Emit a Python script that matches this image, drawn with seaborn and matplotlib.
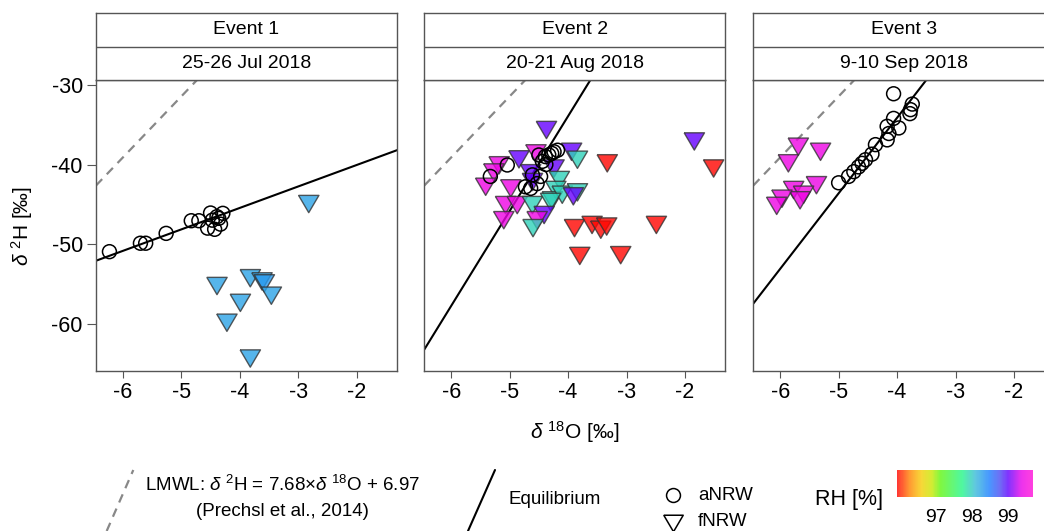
import numpy as np
import pandas as pd
import matplotlib
matplotlib.use("Agg")
import matplotlib.pyplot as plt
import seaborn as sns
from matplotlib.colors import LinearSegmentedColormap, Normalize
from matplotlib.cm import ScalarMappable
from matplotlib.lines import Line2D

# ---------------- data ----------------
events = ["Event 1", "Event 2", "Event 3"]
dates = ["25-26 Jul 2018", "20-21 Aug 2018", "9-10 Sep 2018"]

# aNRW (circles)
a1_d18O = [-6.23, -5.70, -5.61, -5.26, -4.83, -4.70, -4.50, -4.47, -4.55, -4.43, -4.36, -4.29, -4.33, -4.39]
a1_d2H = [-50.96, -49.9, -49.9, -48.66, -47.07, -47.07, -46.1, -47.0, -48.0, -48.15, -46.77, -46.14, -47.5, -46.56]

a2_d18O = [-5.04, -5.33, -4.50, -4.39, -4.33, -4.28, -4.18, -4.24, -4.44, -4.38, -4.61, -4.47, -4.53, -4.64, -4.73]
a2_d2H = [-40.06, -41.5, -38.8, -39.0, -38.8, -38.6, -38.2, -38.4, -39.6, -40.0, -41.3, -41.5, -42.4, -43.0, -42.8]

a3_d18O = [-4.06, -3.74, -3.77, -3.78, -4.06, -3.97, -4.17, -4.14, -4.17, -4.37, -4.43, -4.54, -4.60, -4.66, -4.74, -4.83, -5.00]
a3_d2H = [-31.1, -32.4, -33.1, -33.6, -34.2, -35.4, -35.2, -36.1, -36.9, -37.5, -38.7, -39.4, -39.85, -40.3, -40.9, -41.5, -42.3]

# fNRW (triangles) with relative humidity
f1_d18O = [-2.82, -4.39, -3.82, -3.62, -3.58, -3.46, -3.99, -4.22, -3.82]
f1_d2H = [-44.97, -55.28, -54.3, -54.7, -54.95, -56.5, -57.4, -59.9, -64.4]
f1_RH = [98.25, 98.25, 98.25, 98.25, 98.3, 98.25, 98.25, 98.25, 98.25]

f2_d18O = [-4.37, -4.55, -4.84, -3.94, -3.84, -3.33, -1.84, -1.51, -5.18, -5.27, -5.41, -4.98,
           -4.64, -4.61, -4.24, -4.15, -4.21, -4.27, -4.10, -3.84, -3.91, -5.07, -4.87, -4.61,
           -4.30, -5.10, -4.41, -4.53, -4.60, -3.89, -3.59, -3.44, -3.34, -2.49, -3.80, -3.10]
f2_d2H = [-35.66, -38.6, -39.35, -38.4, -39.4, -39.85, -37.1, -40.5, -40.1, -41.0, -42.8, -43.0,
          -41.1, -42.2, -40.5, -41.95, -43.2, -44.5, -43.8, -43.5, -44.0, -45.1, -45.1, -45.1,
          -44.7, -47.0, -46.35, -47.0, -48.0, -48.0, -47.6, -48.2, -47.8, -47.6, -51.5, -51.4]
f2_RH = [99.0, 99.45, 99.0, 99.0, 97.95, 95.95, 99.0, 95.95, 99.45, 99.45, 99.45, 99.45,
         99.0, 99.0, 99.0, 97.95, 97.95, 97.95, 97.95, 97.95, 99.0, 99.45, 99.45, 97.95,
         97.95, 99.45, 99.0, 99.45, 97.95, 95.95, 95.95, 95.95, 95.95, 95.95, 95.95, 95.95]

f3_d18O = [-5.69, -5.31, -5.86, -5.38, -5.77, -5.60, -5.66, -5.97, -6.06]
f3_d2H = [-37.76, -38.4, -39.85, -42.6, -43.2, -43.8, -44.5, -44.3, -45.2]
f3_RH = [99.45, 99.45, 99.45, 99.45, 99.45, 99.5, 99.45, 99.45, 99.45]

# lines
lmwl_slope, lmwl_intercept = 7.68, 6.97
eq_slopes = [2.70, 11.93, 9.50]
eq_intercepts = [-34.66, 13.8, 3.88]

xlim = (-6.46, -1.31)
ylim = (-65.97, -29.37)
xticks = [-6, -5, -4, -3, -2]
yticks = [-60, -50, -40, -30]
rh_range = (95.93, 99.67)
rh_ticks = [97, 98, 99]

# ---------------- style ----------------
sns.set_theme(style="white")
plt.rcParams['font.family'] = ['Liberation Sans', 'DejaVu Sans']
plt.rcParams['mathtext.fontset'] = 'custom'
plt.rcParams['mathtext.rm'] = 'Liberation Sans'
plt.rcParams['mathtext.it'] = 'Liberation Sans:italic'
plt.rcParams['mathtext.bf'] = 'Liberation Sans:bold'
plt.rcParams['text.color'] = 'black'
plt.rcParams['xtick.labelcolor'] = 'black'
plt.rcParams['ytick.labelcolor'] = 'black'

cm_pos = [0.00, 0.10, 0.18, 0.26, 0.32, 0.48, 0.58, 0.68, 0.76, 0.82, 0.92, 1.00]
cm_cols = ["#FF0000", "#FF8800", "#F6CE06", "#C6E800", "#60F610", "#24F688",
           "#38BAD8", "#1A7FFF", "#4A4AF2", "#6000FF", "#E800E8", "#FF10D8"]
cmap = LinearSegmentedColormap.from_list("rh", list(zip(cm_pos, cm_cols)))
norm = Normalize(*rh_range)

W, H = 1044, 531
fig = plt.figure(figsize=(W / 100, H / 100), dpi=100)

def fx(x):
    return x / W

def fy(y):
    return 1 - y / H

edge = "#555555"
tri = [(-1, 0.85), (1, 0.85), (0, -0.85), (-1, 0.85)]

a_x = [a1_d18O, a2_d18O, a3_d18O]
a_y = [a1_d2H, a2_d2H, a3_d2H]
f_x = [f1_d18O, f2_d18O, f3_d18O]
f_y = [f1_d2H, f2_d2H, f3_d2H]
f_rh = [f1_RH, f2_RH, f3_RH]

lefts = [96, 424.3, 753.3]
pw = 301
top, bot = 80, 371
tfs = 15.5

for i in range(3):
    ax = fig.add_axes([fx(lefts[i]), fy(bot), fx(pw), (bot - top) / H])
    ax.set_xlim(*xlim)
    ax.set_ylim(*ylim)
    ax.axline((0, lmwl_intercept), slope=lmwl_slope, color="#888888", lw=1.6, ls=(0, (4, 3)), zorder=1)
    ax.axline((0, eq_intercepts[i]), slope=eq_slopes[i], color="black", lw=1.5, zorder=1)
    dff = pd.DataFrame({"x": f_x[i], "y": f_y[i], "RH": f_rh[i]})
    sns.scatterplot(data=dff, x="x", y="y", hue="RH", palette=cmap, hue_norm=norm,
                    marker=tri, s=215, alpha=0.8, edgecolor="#333333", linewidth=1.0,
                    legend=False, ax=ax, zorder=2)
    dfa = pd.DataFrame({"x": a_x[i], "y": a_y[i]})
    sns.scatterplot(data=dfa, x="x", y="y", marker="o", s=100, facecolor="none",
                    edgecolor="black", linewidth=1.1, legend=False, ax=ax, zorder=3)
    ax.set_xlabel("")
    ax.set_ylabel("")
    ax.set_xticks(xticks)
    ax.set_xticklabels([str(t) for t in xticks], fontsize=tfs)
    if i == 0:
        ax.set_yticks(yticks)
        ax.set_yticklabels([str(t) for t in yticks], fontsize=tfs)
        ax.tick_params(axis="y", left=True, length=6.5, width=0.8, color=edge, pad=3)
    else:
        ax.set_yticks(yticks)
        ax.set_yticklabels([])
        ax.tick_params(axis="y", left=False)
    ax.tick_params(axis="x", bottom=True, length=5, width=0.8, color=edge, pad=3)
    for s in ax.spines.values():
        s.set_color(edge)
        s.set_linewidth(1.0)
    # strip
    st = fig.add_axes([fx(lefts[i]), fy(top), fx(pw), (top - 13) / H])
    st.set_xlim(0, 1)
    st.set_ylim(0, 1)
    st.set_xticks([])
    st.set_yticks([])
    st.axhline(0.5, color=edge, lw=1.0)
    for s in st.spines.values():
        s.set_color(edge)
        s.set_linewidth(1.0)
    st.text(0.5, 0.75, events[i], ha="center", va="center", fontsize=14)
    st.text(0.5, 0.25, dates[i], ha="center", va="center", fontsize=14)

# axis labels
fig.text(fx(22), fy(225.5), r"$\delta\ ^{2}$H [‰]", rotation=90, ha="center", va="center", fontsize=15)
fig.text(fx(575), fy(432), r"$\delta\ ^{18}$O [‰]", ha="center", va="center", fontsize=15)

# bottom legend
lfs = 13.5
fig.add_artist(Line2D([fx(106.7), fx(133.3)], [fy(531), fy(470)], color="#888888", lw=1.6,
                      ls=(0, (4, 3)), transform=fig.transFigure))
fig.text(fx(145), fy(485), r"LMWL: $\delta\ ^{2}$H = 7.68×$\delta\ ^{18}$O + 6.97",
         ha="left", va="center", fontsize=lfs)
fig.text(fx(282), fy(512), "(Prechsl et al., 2014)", ha="center", va="center", fontsize=lfs)
fig.add_artist(Line2D([fx(468), fx(495)], [fy(531), fy(470)], color="black", lw=1.5,
                      transform=fig.transFigure))
fig.text(fx(508), fy(500), "Equilibrium", ha="left", va="center", fontsize=lfs)
fig.add_artist(Line2D([fx(673)], [fy(495)], marker="o", ms=10, mfc="none", mec="black",
                      mew=1.1, ls="none", transform=fig.transFigure))
fig.add_artist(Line2D([fx(673)], [fy(523)], marker=tri, ms=14, mfc="none", mec="black",
                      mew=1.1, ls="none", transform=fig.transFigure))
fig.text(fx(698), fy(495), "aNRW", ha="left", va="center", fontsize=lfs)
fig.text(fx(698), fy(521), "fNRW", ha="left", va="center", fontsize=lfs)
fig.text(fx(815), fy(500), "RH [%]", ha="left", va="center", fontsize=15.5)

cax = fig.add_axes([fx(896.7), fy(497), fx(136), 27 / H])
cb = fig.colorbar(ScalarMappable(norm=norm, cmap=cmap), cax=cax, orientation="horizontal", alpha=0.8)
cb.outline.set_visible(False)
cb.set_ticks(rh_ticks)
cb.ax.tick_params(direction="in", color="white", top=True, bottom=True, length=4, width=1.2,
                  labelsize=14, pad=9, labelcolor="black")
cb.ax.set_xticklabels([str(t) for t in rh_ticks])

fig.savefig("out.png", dpi=100)
